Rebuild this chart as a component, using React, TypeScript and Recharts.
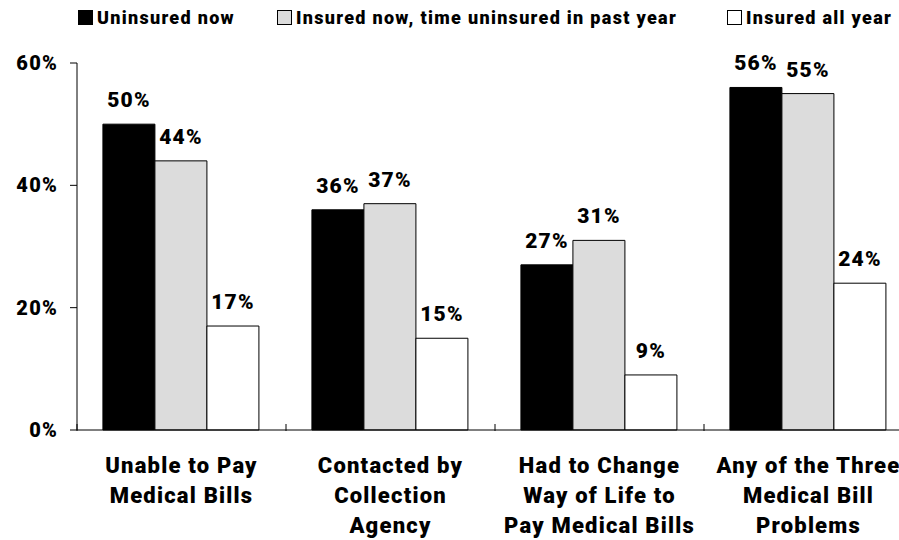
import React from "react";
import { BarChart, Bar, XAxis, YAxis, LabelList } from "recharts";

const categories = [
  ["Unable to Pay", "Medical Bills"],
  ["Contacted by", "Collection", "Agency"],
  ["Had to Change", "Way of Life to", "Pay Medical Bills"],
  ["Any of the Three", "Medical Bill", "Problems"],
];
const uninsuredNow = [50, 36, 27, 56];
const insuredPartYear = [44, 37, 31, 55];
const insuredAllYear = [17, 15, 9, 24];
const yTicks = [0, 20, 40, 60];

const seriesNames = ["Uninsured now", "Insured now, time uninsured in past year", "Insured all year"];
const seriesColors = ["#000000", "#dcdcdc", "#ffffff"];

const data = categories.map((lines, i) => ({
  name: lines.join(" "),
  a: uninsuredNow[i],
  b: insuredPartYear[i],
  c: insuredAllYear[i],
}));

const FONT = "Roboto, 'Liberation Sans', Arial, sans-serif";
const CHART_W = 930;
const CHART_H = 540;
const MARGIN = { top: 63, right: 17, bottom: 0, left: 0 };
const Y_W = 77;
const BAND = (CHART_W - MARGIN.left - MARGIN.right - Y_W) / categories.length;

const CategoryTick = (props: any) => {
  const { x, y, payload } = props;
  const lines: string[] = categories[payload.index] || [];
  const left = x - BAND / 2;
  return (
    <g>
      <line x1={left} x2={left} y1={y - 8} y2={y - 1} stroke="#000" />
      <text x={x} y={y + 41} textAnchor="middle" fontFamily={FONT} fontWeight={900} fontSize={22} letterSpacing={1.2} fill="#000">
        {lines.map((l, i) => (
          <tspan key={i} x={x} dy={i === 0 ? 0 : 30}>
            {l}
          </tspan>
        ))}
      </text>
    </g>
  );
};

const Legend = () => (
  <div style={{ position: "absolute", left: 0, top: 0, width: 899, height: 36, fontFamily: FONT, fontWeight: 900, fontSize: 18, letterSpacing: 1.3 }}>
    {seriesNames.map((n, i) => {
      const lefts = [78, 277, 727];
      return (
        <div key={n} style={{ position: "absolute", left: lefts[i], top: 7, display: "flex", alignItems: "center", whiteSpace: "nowrap" }}>
          <span style={{ display: "inline-block", width: 15, height: 15, background: seriesColors[i], border: "1px solid #000", boxSizing: "border-box", marginRight: 4 }} />
          <span>{n}</span>
        </div>
      );
    })}
  </div>
);

const labelStyle = { fontFamily: FONT, fontWeight: 900, fontSize: 21, letterSpacing: 1.2, fill: "#000" };

export default function App() {
  return (
    <div style={{ position: "fixed", left: 0, top: 0, width: 899, height: 540, overflow: "hidden", background: "#fff" }}>
      <Legend />
      <div style={{ position: "absolute", left: 0, top: 0 }}>
        <BarChart width={CHART_W} height={CHART_H} data={data} margin={MARGIN} barCategoryGap="12.4%" barGap={0}>
          <YAxis
            width={Y_W}
            domain={[0, 60]}
            ticks={yTicks}
            tickFormatter={(v: number) => `${v}%`}
            tickSize={7}
            tickMargin={12}
            axisLine={{ stroke: "#000" }}
            tickLine={{ stroke: "#000" }}
            tick={{ fontFamily: FONT, fontWeight: 900, fontSize: 20, letterSpacing: 1.2, fill: "#000" }}
            interval={0}
          />
          <XAxis
            dataKey="name"
            height={110}
            tick={<CategoryTick />}
            tickLine={false}
            axisLine={{ stroke: "#000" }}
            interval={0}
            tickSize={0}
          />
          <Bar dataKey="a" fill={seriesColors[0]} stroke="#000" strokeWidth={1} isAnimationActive={false}>
            <LabelList dataKey="a" position="top" offset={17} formatter={(v: any) => `${v}%`} style={labelStyle} />
          </Bar>
          <Bar dataKey="b" fill={seriesColors[1]} stroke="#000" strokeWidth={1} isAnimationActive={false}>
            <LabelList dataKey="b" position="top" offset={17} formatter={(v: any) => `${v}%`} style={labelStyle} />
          </Bar>
          <Bar dataKey="c" fill={seriesColors[2]} stroke="#000" strokeWidth={1} isAnimationActive={false}>
            <LabelList dataKey="c" position="top" offset={17} formatter={(v: any) => `${v}%`} style={labelStyle} />
          </Bar>
        </BarChart>
      </div>
    </div>
  );
}
